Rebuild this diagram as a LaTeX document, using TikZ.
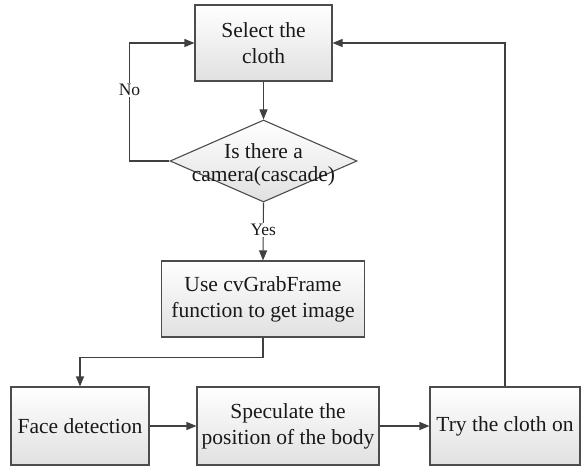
\documentclass[tikz,border=0pt]{standalone}
\usepackage{fontspec}
\setmainfont{Liberation Serif}
\usetikzlibrary{shapes.geometric,arrows.meta}

\tikzset{
  box/.style={draw=black!70, line width=1.1pt, top color=white, bottom color=black!12,
    align=center, inner sep=2pt, font=\fontsize{21.5}{26}\selectfont},
  decide/.style={diamond, draw=black!70, line width=1.1pt, top color=white, bottom color=black!12,
    inner sep=0pt},
  arr/.style={draw=black!75, line width=1.1pt, -{Triangle[length=10pt,width=8pt]}},
  lbl/.style={fill=white, inner sep=1pt, font=\fontsize{17.5}{20}\selectfont}
}

\begin{document}
\begin{tikzpicture}[x=1pt, y=-1pt, text=black!90]
\useasboundingbox (0,0) rectangle (582,468);

\node[box, minimum width=137pt, minimum height=76pt] (sel) at (263.5, 43) {Select the\\cloth};
\node[decide, minimum width=187pt, minimum height=82pt] (cam) at (263.5, 161) {};
\node[align=center, font=\fontsize{21.5}{23}\selectfont] (camtxt) at (263.5, 165) {Is there a\\camera(cascade)};
\node[box, minimum width=203pt, minimum height=76pt] (grab) at (263, 299) {Use cvGrabFrame\\function to get image};
\node[box, minimum width=138pt, minimum height=78pt] (face) at (80, 426) {Face detection};
\node[box, minimum width=182pt, minimum height=78pt] (spec) at (288, 426) {Speculate the\\position of the body};
\node[box, minimum width=150pt, minimum height=78pt] (try) at (505, 426) {Try the cloth on};

\draw[arr] (sel.south) -- (cam.north);
\draw[arr] (cam.west) -- ++(-40, 0) |- (sel.west) node[lbl, pos=0.3] {No};
\draw[arr] (cam.south) -- (grab.north) node[lbl, pos=0.47] {Yes};
\draw[arr] (grab.south) -- ++(0, 20) -| (face.north);
\draw[arr] (face.east) -- (spec.west);
\draw[arr] (spec.east) -- (try.west);
\draw[arr] (try.north) |- (sel.east);
\end{tikzpicture}
\end{document}
